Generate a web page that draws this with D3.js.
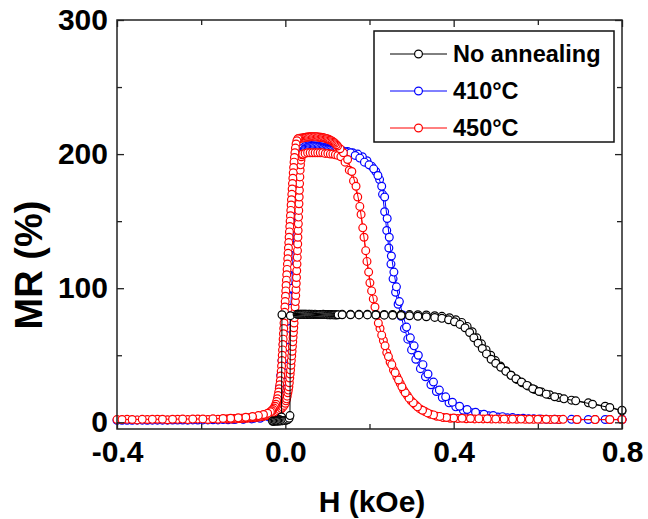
<!DOCTYPE html>
<html><head><meta charset="utf-8">
<script src="https://cdn.jsdelivr.net/npm/d3@7/dist/d3.min.js"></script>
<style>body{margin:0;background:#fff} text{font-family:Arial,"Liberation Sans",sans-serif;font-weight:bold;fill:#000}</style>
</head><body><svg id="c" width="648" height="519"></svg>
<script>
const xTicks=[-0.4,0.0,0.4,0.8], xMinor=[-0.2,0.2,0.6];
const yTicks=[0,100,200,300], yMinor=[50,150,250];
const xTitle="H (kOe)", yTitle="MR (%)";
const legendNames=["No annealing","410°C","450°C"];

// 450°C, field sweep up (drawn first)
const c450Up=[[-0.400,2.0],[-0.376,2.2],[-0.352,1.8],[-0.328,2.1],[-0.304,2.3],[-0.280,1.9],[-0.256,2.2],[-0.232,2.0],[-0.208,2.4],[-0.184,2.1],[-0.160,2.3],[-0.140,2.5],
[-0.136,2.5],[-0.132,2.6],[-0.128,2.5],[-0.125,2.7],[-0.121,2.6],[-0.118,2.8],[-0.114,2.7],[-0.111,2.9],[-0.107,2.8],[-0.104,3.0],[-0.100,3.0],[-0.097,3.1],[-0.093,3.2],[-0.090,3.1],[-0.086,3.3],[-0.083,3.4],[-0.079,3.4],[-0.076,3.6],[-0.072,3.7],[-0.069,3.8],[-0.065,3.9],[-0.062,4.1],[-0.058,4.2],[-0.055,4.4],[-0.051,4.6],[-0.048,4.8],[-0.044,5.0],[-0.041,5.3],[-0.037,5.6],[-0.034,5.9],[-0.030,6.3],[-0.027,6.7],[-0.023,7.2],[-0.020,7.8],[-0.016,8.5],[-0.013,9.3],[-0.009,10.2],[-0.006,11.3],[-0.003,12.6],
[0.0000,14.2],[0.0015,16],[0.0030,17.5],[0.0045,19.5],[0.0060,22],[0.0072,24],[0.0084,26.5],[0.0095,29.5],[0.0105,33],[0.0115,36],[0.0124,39],[0.0133,42.5],[0.0142,46],[0.0151,49.5],[0.0160,53],[0.0168,56.5],[0.0176,60],[0.0184,63.5],[0.0192,67],[0.0200,70.5],[0.0208,74],[0.0216,78],[0.0224,82],[0.0232,86],[0.0240,90],[0.0247,94.5],[0.0253,99],[0.0259,103.5],[0.0265,108],[0.0271,113],[0.0277,118],[0.0283,123],[0.0289,128],[0.0294,133],[0.0299,138],[0.0304,143],[0.0309,148],[0.0314,153],[0.0319,158],[0.0324,163],[0.0329,168],[0.0334,173],[0.0339,178],[0.0345,183],[0.0352,188],[0.0360,192],[0.0370,195.5],[0.0382,198],[0.0396,199.5],[0.0412,200],
[0.047,200.5],[0.053,201],[0.059,201],[0.065,201],[0.071,201],[0.077,201],[0.083,201],[0.089,201],[0.095,200.5],[0.101,200.5],[0.107,200],[0.113,200],[0.119,199.5],[0.125,199],
[0.132,198],[0.142,194],[0.152,188],[0.162,180],[0.172,168],[0.180,155],[0.187,138],[0.194,120],[0.201,104],[0.209,92],[0.217,80],[0.225,70],[0.233,61],[0.241,52],[0.249,45],[0.257,39],[0.265,34],[0.273,29],[0.281,24],[0.290,20],[0.299,16],[0.309,13],[0.320,10],[0.332,8],[0.345,6],[0.360,4.5],[0.375,3.5],[0.392,3],[0.410,2.8],[0.430,2.6],[0.450,2.5],[0.470,2.5],[0.490,2.4],[0.510,2.4],[0.530,2.3],[0.550,2.3],[0.570,2.2],[0.590,2.2],[0.610,2.2],[0.630,2.1],[0.650,2.1],[0.693,2.0],[0.736,2.0],[0.771,2.0],[0.800,2.0]];
// 450°C, field sweep down (drawn second)
const c450Down=[[0.800,2.0],[0.771,2.1],[0.736,2.0],[0.693,2.1],[0.660,2.2],[0.640,2.2],[0.620,2.3],[0.600,2.3],[0.580,2.3],[0.560,2.4],[0.540,2.4],[0.520,2.5],[0.500,2.5],[0.480,2.6],[0.460,2.7],[0.440,2.8],[0.420,3.0],[0.400,3.2],[0.383,3.6],[0.367,4.4],[0.352,5.5],[0.338,7],[0.326,9],[0.314,11.5],[0.304,14.5],[0.294,18],[0.285,22],[0.277,26.5],[0.269,31.5],[0.261,37],[0.253,43],[0.245,49],[0.237,57],[0.229,65],[0.221,74],[0.213,86],[0.205,98],[0.198,112],[0.191,128],[0.184,145],[0.177,161],[0.168,176],[0.158,187],[0.148,196],[0.138,201],[0.130,204],
[0.124,206],[0.121,207],[0.118,208],[0.115,208.8],[0.112,209.5],[0.109,210],[0.106,210.5],[0.103,211],[0.100,211.3],[0.097,211.6],[0.094,211.9],[0.091,212.1],[0.088,212.3],[0.085,212.5],[0.082,212.6],[0.079,212.7],[0.076,212.8],[0.073,212.9],[0.070,213],[0.067,213],[0.064,213],[0.061,213],[0.058,212.9],[0.055,212.8],[0.052,212.7],[0.049,212.5],[0.046,212.3],[0.043,212.1],[0.040,212],[0.037,211.9],[0.034,211.8],[0.032,211.7],
[0.0300,211.5],[0.0275,210],[0.0255,207.5],[0.0240,204.5],[0.0228,201],[0.0217,197.5],[0.0207,194],[0.0197,190],[0.0188,186],[0.0179,182],[0.0170,178],[0.0162,174],[0.0154,170],[0.0146,166],[0.0138,162],[0.0130,158],[0.0122,154],[0.0114,150],[0.0106,146],[0.0098,142],[0.0090,138],[0.0082,134],[0.0074,130],[0.0066,126],[0.0058,122],[0.0050,118],[0.0042,114],[0.0034,110],[0.0026,106],[0.0018,102],[0.0011,98],[0.0004,94],[-0.0003,90],[-0.0010,86],[-0.0017,82],[-0.0024,78],[-0.0031,74],[-0.0038,70],[-0.0045,66],[-0.0052,62],[-0.0059,58],[-0.0066,54],[-0.0073,50],[-0.0081,46],[-0.0089,42],[-0.0098,38],[-0.0108,34.5],[-0.0119,31],[-0.0131,28],[-0.0144,25],[-0.0158,22.5],[-0.0173,20],[-0.0189,17.5],[-0.0206,15.5],[-0.0225,13.5],[-0.0246,12],[-0.0270,10.6],[-0.0296,9.5],[-0.0325,8.6],[-0.0355,7.9],
[-0.042,6.8],[-0.052,5.8],[-0.064,5],[-0.078,4.3],[-0.094,3.8],[-0.112,3.3],[-0.130,3],[-0.148,2.8],[-0.172,2.6],[-0.196,2.5],[-0.220,2.4],[-0.244,2.4],[-0.268,2.3],[-0.292,2.3],[-0.316,2.2],[-0.340,2.2],[-0.364,2.1],[-0.388,2.1]];

// 410°C, field sweep up
const c410Up=[[-0.400,1.5],[-0.376,1.5],[-0.352,1.6],[-0.328,1.5],[-0.304,1.6],[-0.280,1.6],[-0.256,1.7],[-0.232,1.6],[-0.208,1.7],[-0.184,1.8],[-0.160,1.8],[-0.136,1.9],[-0.120,2.0],[-0.100,2.2],[-0.080,2.5],[-0.060,3.0],[-0.040,4.0],[-0.030,5.0],[-0.020,7.0],[-0.012,10],[-0.006,14],[0.000,20],[0.003,30],[0.006,42],[0.009,56],[0.011,70],[0.013,85],[0.015,100],[0.017,115],[0.019,130],[0.021,145],[0.023,160],[0.025,172],[0.027,183],[0.030,192],[0.034,198],[0.038,201],
[0.042,202.5],[0.045,203.5],[0.048,204.2],[0.051,204.8],[0.054,205.2],[0.057,205.5],[0.060,205.7],[0.063,205.8],[0.066,205.8],[0.069,205.7],[0.072,205.6],[0.075,205.4],[0.078,205.2],[0.081,205.0],[0.084,204.8],[0.087,204.6],[0.090,204.4],[0.093,204.2],[0.096,204.0],[0.099,203.8],[0.102,203.6],[0.105,203.4],[0.108,203.2],[0.111,203.0],[0.114,202.8],[0.117,202.6],[0.120,202.4],[0.123,202.2],
[0.133,202],[0.144,201.5],[0.155,201],[0.166,199],[0.177,197],[0.188,194],[0.199,192],[0.210,189],[0.220,184],[0.229,176],[0.236,168],[0.242,152],[0.247,138],[0.252,124],[0.258,112],[0.264,101],[0.271,90],[0.279,80],[0.288,71],[0.297,63],[0.306,57],[0.316,50],[0.327,43],[0.339,36],[0.352,30],[0.366,24],[0.381,19],[0.397,15],[0.414,12],[0.432,9.5],[0.452,7.5],[0.472,6],[0.494,5],[0.516,4.2],[0.540,3.5],[0.565,3],[0.590,2.6],[0.620,2.3],[0.650,2.1],[0.693,2.0],[0.736,2.0],[0.771,2.0],[0.800,2.0]];
// 410°C, field sweep down
const c410Down=[[0.800,2.1],[0.760,2.1],[0.720,2.1],[0.680,2.2],[0.640,2.3],[0.605,2.4],[0.578,2.6],[0.553,2.9],[0.528,3.4],[0.505,4],[0.483,4.8],[0.462,5.9],[0.442,7.2],[0.423,9],[0.405,11.5],[0.389,14.5],[0.373,18.5],[0.359,23],[0.346,28],[0.333,34],[0.321,40],[0.310,47],[0.300,54],[0.291,62],[0.283,70],[0.275,79],[0.268,88],[0.262,97],[0.256,107],[0.251,118],[0.246,130],[0.241,143],[0.236,157],[0.231,170],[0.224,181],[0.215,187],[0.205,191],[0.194,195],[0.183,198],[0.172,200],[0.160,201],[0.148,202],[0.136,202.5],[0.126,203],
[0.118,203.5],[0.110,204],[0.102,204.5],[0.094,205],[0.086,205.5],[0.078,206],[0.070,206.3],[0.062,206.5],[0.054,206.2],[0.046,205.5],[0.038,204],[0.031,201],[0.026,195],
[0.022,185],[0.019,172],[0.016,158],[0.013,143],[0.010,128],[0.007,113],[0.004,98],[0.001,84],[-0.002,71],[-0.005,58],[-0.008,46],[-0.011,35],[-0.014,26],[-0.018,18],[-0.023,12],[-0.030,8],[-0.040,5.5],[-0.055,4],[-0.075,3],[-0.100,2.5],[-0.124,2.2],[-0.148,2],[-0.172,1.9],[-0.196,1.8],[-0.220,1.8],[-0.244,1.7],[-0.268,1.7],[-0.292,1.6],[-0.316,1.6],[-0.340,1.6],[-0.364,1.5],[-0.388,1.5]];

// No annealing, field sweep down
const noAnnealDown=[[0.800,8.5],[0.760,12],[0.720,14.5],[0.680,16.5],[0.650,18.5],[0.628,20.5],[0.609,22.5],[0.592,24.5],[0.577,27],[0.563,29.5],[0.550,32],[0.537,35],[0.524,38.5],[0.511,42],[0.499,46],[0.488,50],[0.477,54],[0.466,58.5],[0.455,63],[0.444,67.5],[0.432,71.5],[0.419,74.5],[0.405,76.5],[0.390,78],[0.372,79],[0.355,79.5],[0.335,80],[0.315,80.2],[0.295,80.3],[0.275,80.3],[0.255,80.4],[0.235,80.4],[0.215,80.4],[0.195,80.5],[0.175,80.5],[0.155,80.5],[0.135,80.5],[0.090,80.5],[0.050,80.4],[-0.008,80.2],[-0.009,4],[-0.014,2],[-0.020,1.2],[-0.030,0.9]];
// No annealing, field sweep up
const noAnnealUp=[[-0.030,0.8],[-0.027,0.8],[-0.024,0.9],[-0.021,0.9],[-0.018,1.0],[-0.015,1.0],[-0.012,1.1],[-0.009,1.1],[-0.006,1.2],[-0.003,1.3],[0.000,1.4],[0.003,1.6],[0.006,2.0],[0.009,3.0],[0.011,5.0],[0.012,79.5],
[0.028,80.5],[0.0305,80.5],[0.033,80.6],[0.0355,80.5],[0.038,80.6],[0.0405,80.5],[0.043,80.5],[0.0455,80.6],[0.048,80.5],[0.0505,80.5],[0.053,80.4],[0.0555,80.5],[0.058,80.5],[0.0605,80.4],[0.063,80.5],[0.0655,80.4],[0.068,80.4],[0.0705,80.5],[0.073,80.4],[0.0755,80.4],[0.078,80.3],[0.0805,80.4],[0.083,80.4],[0.0855,80.3],[0.088,80.3],[0.0905,80.4],[0.093,80.3],[0.0955,80.3],[0.098,80.3],[0.1005,80.2],[0.103,80.3],[0.1055,80.2],[0.108,80.2],[0.1105,80.3],[0.113,80.2],[0.1155,80.2],[0.118,80.2],[0.1205,80.1],[0.123,80.2],[0.1255,80.2],
[0.135,80.2],[0.155,80.2],[0.175,80.1],[0.195,80.1],[0.215,80.0],[0.235,79.9],[0.255,79.8],[0.275,79.6],[0.295,79.4],[0.315,79.1],[0.335,78.7],[0.355,78.2],[0.372,77.5],[0.388,76.5],[0.402,75],[0.415,73],[0.427,70.5],[0.438,67],[0.448,63],[0.458,59],[0.468,55],[0.478,51],[0.489,47],[0.500,44],[0.512,41],[0.524,38],[0.536,35],[0.548,32.5],[0.561,30],[0.574,27.5],[0.588,25],[0.603,23],[0.620,21],[0.640,19],[0.662,17.5],[0.690,16],[0.730,13.5],[0.771,11],[0.800,9]];

const plots=[
  {name:legendNames[1], color:"#0000ff", branches:[c410Down,c410Up]},
  {name:legendNames[2], color:"#ff0000", branches:[c450Up,c450Down]},
  {name:legendNames[0], color:"#000000", branches:[noAnnealDown,noAnnealUp]}
];
const legendOrder=[2,0,1];

const svg=d3.select("#c");
const x=d3.scaleLinear().domain([-0.4,0.8]).range([117,622]);
const y=d3.scaleLinear().domain([-5,300]).range([429,20]);
const R=3.9;

const line=d3.line().x(d=>x(d[0])).y(d=>y(d[1]));
const gData=svg.append("g");
plots.forEach(p=>{
  p.branches.forEach(b=>{
    gData.append("path").attr("d",line(b)).attr("fill","none").attr("stroke",p.color).attr("stroke-width",1);
    gData.append("g").selectAll("circle").data(b).join("circle")
      .attr("cx",d=>x(d[0])).attr("cy",d=>y(d[1])).attr("r",R)
      .attr("fill","#fff").attr("stroke",p.color).attr("stroke-width",1.2);
  });
});

const fmtX=d=>d3.format(".1f")(d).replace("\u2212","-");
function styleAxis(g){g.select(".domain").remove();g.selectAll(".tick line").attr("stroke","#222").attr("stroke-width",1.3);g.selectAll("text").style("font-size","30px").style("font-family","Arial, 'Liberation Sans', sans-serif").style("font-weight","bold").attr("fill","#000");}
const b=y.range()[0], t=y.range()[1], l=x.range()[0], r=x.range()[1];
svg.append("g").attr("transform",`translate(0,${b})`).call(d3.axisBottom(x).tickValues(xTicks).tickFormat(fmtX).tickSizeInner(-7).tickSizeOuter(0).tickPadding(12)).call(styleAxis);
svg.append("g").attr("transform",`translate(0,${b})`).call(d3.axisBottom(x).tickValues(xMinor).tickFormat("").tickSizeInner(-5).tickSizeOuter(0)).call(styleAxis);
svg.append("g").attr("transform",`translate(0,${t})`).call(d3.axisTop(x).tickValues(xTicks).tickFormat("").tickSizeInner(-7).tickSizeOuter(0)).call(styleAxis);
svg.append("g").attr("transform",`translate(0,${t})`).call(d3.axisTop(x).tickValues(xMinor).tickFormat("").tickSizeInner(-5).tickSizeOuter(0)).call(styleAxis);
svg.append("g").attr("transform",`translate(${l},0)`).call(d3.axisLeft(y).tickValues(yTicks).tickFormat(d3.format("d")).tickSizeInner(-7).tickSizeOuter(0).tickPadding(9)).call(styleAxis);
svg.append("g").attr("transform",`translate(${l},0)`).call(d3.axisLeft(y).tickValues(yMinor).tickFormat("").tickSizeInner(-5).tickSizeOuter(0)).call(styleAxis);
svg.append("g").attr("transform",`translate(${r},0)`).call(d3.axisRight(y).tickValues(yTicks).tickFormat("").tickSizeInner(-7).tickSizeOuter(0)).call(styleAxis);
svg.append("g").attr("transform",`translate(${r},0)`).call(d3.axisRight(y).tickValues(yMinor).tickFormat("").tickSizeInner(-5).tickSizeOuter(0)).call(styleAxis);
svg.append("rect").attr("x",l).attr("y",t).attr("width",r-l).attr("height",b-t).attr("fill","none").attr("stroke","#222").attr("stroke-width",1.5);

svg.append("text").attr("x",372).attr("y",512).attr("text-anchor","middle").style("font-size","30px").text(xTitle);
svg.append("text").attr("transform","translate(42,265) rotate(-90)").attr("text-anchor","middle").style("font-size","38px").text(yTitle);

const lg=svg.append("g");
lg.append("rect").attr("x",374).attr("y",31).attr("width",240).attr("height",111).attr("fill","#fff").attr("stroke","#111").attr("stroke-width",1.5);
legendOrder.forEach((pi,i)=>{
  const p=plots[pi], cy=54+i*37;
  lg.append("line").attr("x1",390).attr("x2",447).attr("y1",cy).attr("y2",cy).attr("stroke",p.color).attr("stroke-width",1);
  lg.append("circle").attr("cx",418.5).attr("cy",cy).attr("r",R).attr("fill","#fff").attr("stroke",p.color).attr("stroke-width",1.2);
  lg.append("text").attr("x",453).attr("y",cy).attr("dy","0.36em").style("font-size","23.5px").text(p.name);
});
</script></body></html>
